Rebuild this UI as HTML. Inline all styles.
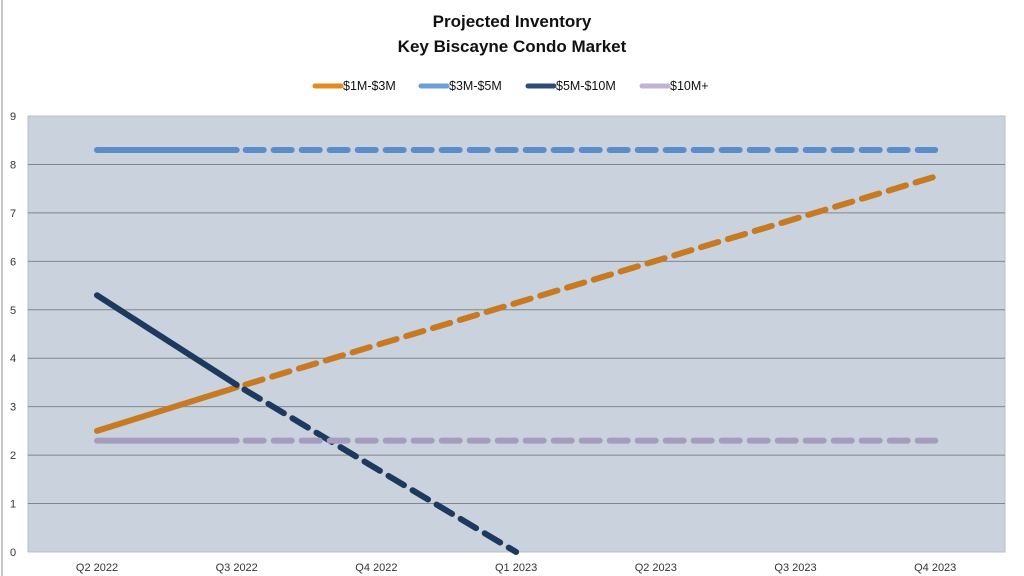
<!DOCTYPE html>
<html><head><meta charset="utf-8"><style>
body{margin:0;background:#fff;}
svg{display:block;font-family:"Liberation Sans",sans-serif;}
</style></head><body>
<svg id="chart" width="1024" height="576" viewBox="0 0 1024 576">
<rect x="0" y="0" width="1024" height="576" fill="#fff"/>
<rect x="1" y="0" width="2" height="576" fill="#c8c8c8"/>
<text x="512" y="27" text-anchor="middle" font-size="17" font-weight="bold" fill="#111">Projected Inventory</text>
<text x="512" y="52" text-anchor="middle" font-size="17" font-weight="bold" fill="#111">Key Biscayne Condo Market</text>
<rect x="28" y="116" width="977" height="436" fill="#c9d2dd" stroke="#b8bec6"/>
<g id="grid"></g><g id="axes"></g><g id="series"></g><g id="legend"></g>
</svg>
<script>
const categories=["Q2 2022","Q3 2022","Q4 2022","Q1 2023","Q2 2023","Q3 2023","Q4 2023"];
const yTicks=[0,1,2,3,4,5,6,7,8,9];
const seriesNames=["$1M-$3M","$3M-$5M","$5M-$10M","$10M+"];
const s1=[2.5,3.4,4.27,5.14,6.01,6.88,7.75];
const s2=[8.3,8.3,8.3,8.3,8.3,8.3,8.3];
const s3=[5.3,3.45,1.72,0];
const s4=[2.3,2.3,2.3,2.3,2.3,2.3,2.3];
const solidColors=["#c87a22","#5b8dc9","#1d3a5e","#a69cc0"];
const legendColors=["#e58a1e","#6a9fd8","#2e4d75","#bfb3d6"];
const NS="http://www.w3.org/2000/svg";
const X=i=>97+i*139.7;
const Y=v=>552-v*48.44;
function mk(t,a,p){const e=document.createElementNS(NS,t);for(const k in a)e.setAttribute(k,a[k]);p.appendChild(e);return e;}
const grid=document.getElementById('grid'),axes=document.getElementById('axes'),ser=document.getElementById('series'),leg=document.getElementById('legend');
yTicks.forEach(v=>{
  if(v>0&&v<9){const l=mk('line',{x1:28,x2:1005,y1:Y(v),y2:Y(v),stroke:'#7f8690','stroke-width':1},grid);
  
  }
  const t=mk('text',{x:13,y:Y(v)+4,'text-anchor':'middle','font-size':11,fill:'#333'},axes);t.textContent=v;
  
  
});
categories.forEach((c,i)=>{
  const t=mk('text',{x:X(i),y:571,'text-anchor':'middle','font-size':11,fill:'#333'},axes);t.textContent=c;
  
  
});
[s1,s2,s3,s4].forEach((d,k)=>{
  const g=mk('g',{},ser);
  
  
  const a=mk('line',{x1:X(0),y1:Y(d[0]),x2:X(1),y2:Y(d[1]),stroke:solidColors[k],'stroke-width':6,'stroke-linecap':'round'},g);
  
  
  let pts=d.slice(1).map((v,i)=>X(i+1)+','+Y(v)).join(' ');
  const p=mk('polyline',{points:pts,fill:'none',stroke:solidColors[k],'stroke-width':6,'stroke-dasharray':'18 10','stroke-dashoffset':-9,'stroke-linecap':'round'},g);
  
  
});
const lx=[313,419,526,640];
seriesNames.forEach((n,k)=>{
  const g=mk('g',{},leg);
  
  
  mk('line',{x1:lx[k]+2,x2:lx[k]+28,y1:86,y2:86,stroke:legendColors[k],'stroke-width':5,'stroke-linecap':'round'},g);
  const t=mk('text',{x:lx[k]+30,y:90,'font-size':12.5,fill:'#111'},g);t.textContent=n;
});
</script>
</body></html>
